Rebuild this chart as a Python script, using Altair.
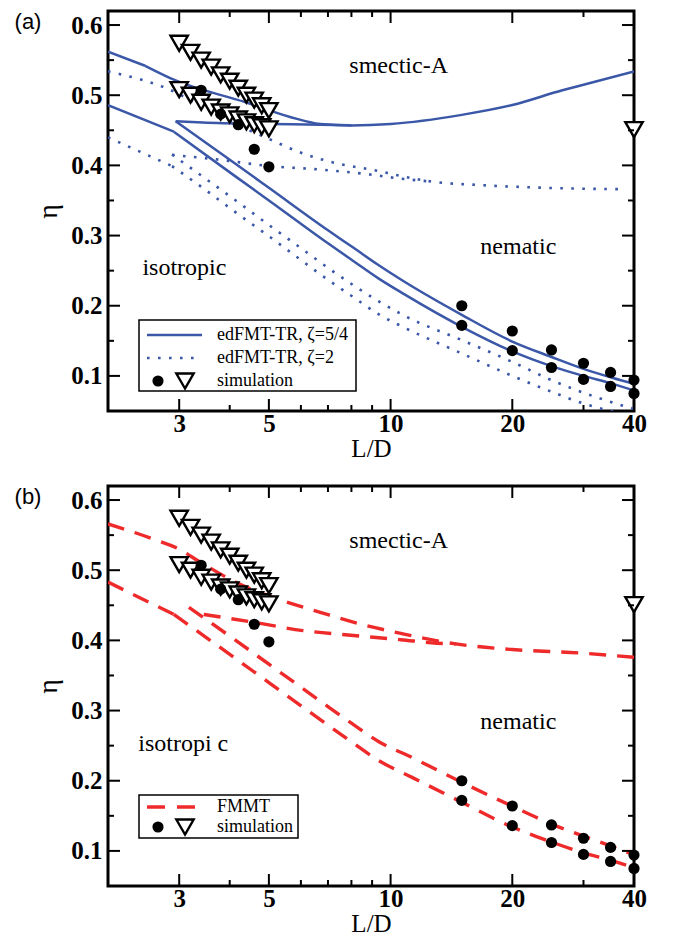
import altair as alt
import pandas as pd

W, H = 526, 400
BLUE = "#3b57a7"
RED = "#ee2a2a"
SERIF = "Liberation Serif"

# ---------------- data ----------------
# panel (a): edFMT-TR, zeta = 5/4 (solid)
a1_smA0_x = [2.0, 2.47]
a1_smA0_y = [0.562, 0.542]
a1_smA_x = [2.47, 2.94, 4.38, 5.64, 6.7, 8.0, 10.0, 15.0, 20.0, 26.6, 30.0, 40.0]
a1_smA_y = [0.542, 0.521, 0.490, 0.469, 0.459, 0.457, 0.459, 0.472, 0.486, 0.507, 0.515, 0.534]
a1_nsm_x = [2.94, 3.43, 5.0, 6.7, 8.0]
a1_nsm_y = [0.463, 0.461, 0.459, 0.458, 0.457]
a1_nem_x = [2.94, 4.14, 5.03, 7.0, 8.1, 9.33, 10.8, 15.0, 20.0, 25.0, 30.0, 35.5, 40.0]
a1_nem_y = [0.463, 0.402, 0.367, 0.3075, 0.2825, 0.258, 0.2345, 0.187, 0.149, 0.127, 0.110, 0.097, 0.0887]
a1_iso0_x = [2.0, 2.91]
a1_iso0_y = [0.486, 0.448]
a1_iso_x = [2.91, 4.14, 5.03, 7.0, 8.1, 9.33, 10.8, 15.0, 20.0, 25.0, 30.0, 35.5, 40.0]
a1_iso_y = [0.448, 0.384, 0.349, 0.289, 0.2635, 0.239, 0.2165, 0.170, 0.135, 0.114, 0.100, 0.0887, 0.079]

# panel (a): edFMT-TR, zeta = 2 (dotted)
a2_smA_x = [2.0, 2.94, 3.43, 4.14, 5.03, 6.07, 7.35, 9.33, 10.2, 12.6, 16.6, 24.3, 38.0]
a2_smA_y = [0.534, 0.504, 0.483, 0.459, 0.437, 0.417, 0.403, 0.392, 0.387, 0.377, 0.372, 0.368, 0.366]
a2_nsm_x = [2.88, 3.78, 5.03, 6.7, 8.9, 10.3, 12.6]
a2_nsm_y = [0.415, 0.408, 0.399, 0.394, 0.387, 0.382, 0.377]
a2_nem_x = [2.88, 3.43, 4.14, 5.03, 6.07, 7.0, 8.1, 9.33, 10.8, 15.0, 20.0, 25.0, 30.0, 38.4, 40.0]
a2_nem_y = [0.4155, 0.384, 0.350, 0.314, 0.280, 0.254, 0.229, 0.2065, 0.186, 0.151, 0.120, 0.094, 0.076, 0.056, 0.053]
a2_iso0_x = [2.0, 2.88]
a2_iso0_y = [0.440, 0.399]
a2_iso_x = [2.88, 3.43, 4.14, 5.03, 6.07, 7.0, 8.1, 9.33, 10.8, 15.0, 20.0, 25.0, 30.0, 35.5, 40.0]
a2_iso_y = [0.399, 0.368, 0.333, 0.298, 0.263, 0.237, 0.212, 0.188, 0.169, 0.132, 0.100, 0.0775, 0.0606, 0.049, 0.041]

# panel (b): FMMT (dashed)
b_smA_x = [2.0, 2.57, 3.0, 3.37, 4.31, 5.32, 6.7, 8.57, 10.6, 14.5, 20.0, 29.4, 40.0]
b_smA_y = [0.566, 0.545, 0.530, 0.512, 0.478, 0.458, 0.440, 0.422, 0.410, 0.395, 0.387, 0.382, 0.376]
b_nsm_x = [3.45, 4.56, 6.07, 8.1, 10.6, 13.0, 14.5]
b_nsm_y = [0.437, 0.426, 0.414, 0.407, 0.401, 0.396, 0.395]
b_nem_x = [3.17, 4.14, 5.03, 6.7, 8.0, 9.33, 11.3, 15.0, 20.0, 25.0, 30.0, 35.5, 40.0]
b_nem_y = [0.447, 0.400, 0.365, 0.3135, 0.2820, 0.2560, 0.2331, 0.1977, 0.1637, 0.1382, 0.1212, 0.1057, 0.0943]
b_iso0_x = [2.0, 2.91]
b_iso0_y = [0.483, 0.437]
b_iso_x = [2.91, 4.14, 5.03, 6.7, 8.0, 9.33, 11.3, 15.0, 20.0, 25.0, 30.0, 35.5, 40.0]
b_iso_y = [0.437, 0.374, 0.3388, 0.2871, 0.2555, 0.2290, 0.2048, 0.1694, 0.1340, 0.1127, 0.0972, 0.0858, 0.0759]

# simulation
circ_x = [3.4, 3.8, 4.2, 4.6, 5.0, 15, 15, 20, 20, 25, 25, 30, 30, 35, 35, 40, 40]
circ_y = [0.507, 0.473, 0.458, 0.423, 0.398, 0.200, 0.172, 0.164, 0.136, 0.137, 0.112,
          0.118, 0.095, 0.105, 0.085, 0.094, 0.075]
tri_x = [3.0, 3.2, 3.4, 3.6, 3.8, 4.0, 4.2, 4.4, 4.6, 4.8, 5.0,
         3.0, 3.2, 3.4, 3.6, 3.8, 4.0, 4.2, 4.4, 4.6, 4.8, 5.0, 40]
tri_y = [0.574, 0.561, 0.550, 0.540, 0.529, 0.520, 0.510, 0.500, 0.493, 0.485, 0.478,
         0.508, 0.500, 0.490, 0.483, 0.476, 0.472, 0.466, 0.462, 0.458, 0.455, 0.452, 0.451]

# axes ticks
x_major = [3, 5, 10, 20, 40]
x_minor = [4, 6, 7, 8, 9, 30]
y_major = [0.1, 0.2, 0.3, 0.4, 0.5, 0.6]
y_minor = [0.15, 0.25, 0.35, 0.45, 0.55]

# phase labels
phase_text = ["smectic-A", "nematic"]
phase_x = [10.47, 20.7]
phase_y = [0.532, 0.274]


def curves(pairs):
    frames = []
    for name, xs, ys in pairs:
        frames.append(pd.DataFrame({"x": xs, "y": ys, "s": name, "o": list(range(len(xs)))}))
    return pd.concat(frames, ignore_index=True)


X = alt.X("x:Q",
          scale=alt.Scale(type="log", domain=[2, 40], nice=False),
          axis=alt.Axis(values=x_major, format="~g", title="L/D", ticks=False, domain=False, grid=False,
                        labelFont=SERIF, labelFontSize=25, labelFontWeight="bold", labelColor="black",
                        labelFlush=False, labelOverlap=False, labelPadding=0,
                        titleFont=SERIF, titleFontSize=25, titleFontWeight="normal", titleColor="black",
                        titlePadding=0))
Y = alt.Y("y:Q",
          scale=alt.Scale(domain=[0.05, 0.62], nice=False, zero=False),
          axis=alt.Axis(values=y_major, format=".1f", title="η", ticks=False, domain=False, grid=False,
                        labelFont=SERIF, labelFontSize=25, labelFontWeight="bold", labelColor="black",
                        labelPadding=6, labelOverlap=False,
                        titleFont=SERIF, titleFontSize=28, titleFontWeight="normal", titleColor="black",
                        titlePadding=8))

one = pd.DataFrame({"k": [0]})


def tick_layers():
    xM = pd.DataFrame({"x": x_major})
    xm = pd.DataFrame({"x": x_minor})
    yM = pd.DataFrame({"y": y_major})
    ym = pd.DataFrame({"y": y_minor})
    out = []
    for df, ln in ((xM, 12), (xm, 6)):
        out.append(alt.Chart(df).mark_rule(color="black", strokeWidth=2).encode(
            x=X, y=alt.value(H), y2=alt.value(H - ln)))
        out.append(alt.Chart(df).mark_rule(color="black", strokeWidth=2).encode(
            x=X, y=alt.value(0), y2=alt.value(ln)))
    for df, ln in ((yM, 12), (ym, 6)):
        out.append(alt.Chart(df).mark_rule(color="black", strokeWidth=2).encode(
            y=Y, x=alt.value(0), x2=alt.value(ln)))
        out.append(alt.Chart(df).mark_rule(color="black", strokeWidth=2).encode(
            y=Y, x=alt.value(W), x2=alt.value(W - ln)))
    return out


def sim_layers():
    tri = pd.DataFrame({"x": tri_x, "y": tri_y})
    circ = pd.DataFrame({"x": circ_x, "y": circ_y})
    return [
        alt.Chart(tri).mark_point(shape="triangle-down", filled=True, fill="white", stroke="black",
                                  strokeWidth=2.4, size=300, opacity=1).encode(x=X, y=Y),
        alt.Chart(circ).mark_point(shape="circle", filled=True, fill="black", stroke="black",
                                   strokeWidth=0, size=125, opacity=1).encode(x=X, y=Y),
    ]


def text_layers(iso_text, iso_x, iso_y, label):
    df = pd.DataFrame({"x": phase_x + [iso_x], "y": phase_y + [iso_y], "t": phase_text + [iso_text]})
    return [
        alt.Chart(df).mark_text(font=SERIF, fontSize=24, align="center", baseline="alphabetic",
                                color="black").encode(x=X, y=Y, text="t:N"),
        alt.Chart(one).mark_text(font="Liberation Sans", fontSize=22, align="center", baseline="middle",
                                 color="black").encode(x=alt.value(-80), y=alt.value(11),
                                                       text=alt.value(label)),
    ]


def legend_text(x, y, t):
    return alt.Chart(one).mark_text(font=SERIF, fontSize=18, align="left", baseline="middle",
                                    color="black").encode(x=alt.value(x), y=alt.value(y), text=alt.value(t))


def legend_sim(y):
    return [
        alt.Chart(one).mark_point(shape="circle", filled=True, fill="black", strokeWidth=0, size=125,
                                  opacity=1).encode(x=alt.value(50), y=alt.value(y)),
        alt.Chart(one).mark_point(shape="triangle-down", filled=True, fill="white", stroke="black",
                                  strokeWidth=2.4, size=300, opacity=1).encode(x=alt.value(77), y=alt.value(y)),
        legend_text(109, y, "simulation"),
    ]


DOT = dict(color=BLUE, strokeWidth=2.6, strokeDash=[2.6, 8.4], strokeCap="butt")
DASH = dict(color=RED, strokeWidth=3.4, strokeDash=[17, 11], strokeCap="butt")


def line_layer(df, style):
    return alt.Chart(df).mark_line(interpolate="monotone", clip=True, **style).encode(
        x=X, y=Y, detail="s:N", order="o:Q")


# ---------- panel (a) ----------
solid = curves([("smA0", a1_smA0_x, a1_smA0_y), ("smA", a1_smA_x, a1_smA_y),
                ("nsm", a1_nsm_x, a1_nsm_y), ("nem", a1_nem_x, a1_nem_y),
                ("iso0", a1_iso0_x, a1_iso0_y), ("iso", a1_iso_x, a1_iso_y)])
dotted = curves([("smA", a2_smA_x, a2_smA_y), ("nsm", a2_nsm_x, a2_nsm_y),
                 ("nem", a2_nem_x, a2_nem_y), ("iso0", a2_iso0_x, a2_iso0_y),
                 ("iso", a2_iso_x, a2_iso_y)])

layers_a = [line_layer(dotted, DOT), line_layer(solid, dict(color=BLUE, strokeWidth=2.5))]
layers_a += sim_layers() + tick_layers() + text_layers("isotropic", 3.09, 0.244, "(a)")
layers_a += [
    alt.Chart(one).mark_rect(fill="white", stroke="black", strokeWidth=1.5).encode(
        x=alt.value(31), x2=alt.value(248), y=alt.value(309), y2=alt.value(380)),
    alt.Chart(one).mark_rule(color=BLUE, strokeWidth=2.5).encode(
        x=alt.value(39), x2=alt.value(94), y=alt.value(324)),
    legend_text(109, 324, "edFMT-TR, ζ=5/4"),
    alt.Chart(one).mark_rule(**DOT).encode(x=alt.value(39), x2=alt.value(94), y=alt.value(347)),
    legend_text(109, 347, "edFMT-TR, ζ=2"),
] + legend_sim(370)

panel_a = alt.layer(*layers_a).properties(width=W, height=H)

# ---------- panel (b) ----------
dashed = curves([("smA", b_smA_x, b_smA_y), ("nsm", b_nsm_x, b_nsm_y),
                 ("nem", b_nem_x, b_nem_y), ("iso0", b_iso0_x, b_iso0_y),
                 ("iso", b_iso_x, b_iso_y)])
layers_b = [line_layer(dashed, DASH)]
layers_b += sim_layers() + tick_layers() + text_layers("isotropi c", 3.07, 0.242, "(b)")
layers_b += [
    alt.Chart(one).mark_rect(fill="white", stroke="black", strokeWidth=1.5).encode(
        x=alt.value(31), x2=alt.value(190), y=alt.value(309), y2=alt.value(352)),
    alt.Chart(one).mark_rule(color=RED, strokeWidth=3.4, strokeDash=[18, 12], strokeCap="butt").encode(
        x=alt.value(39), x2=alt.value(88), y=alt.value(321)),
    legend_text(109, 321, "FMMT"),
] + legend_sim(341)

panel_b = alt.layer(*layers_b).properties(width=W, height=H)

chart = alt.vconcat(panel_a, panel_b, spacing=20).configure_view(
    stroke="black", strokeWidth=3
).properties(
    padding={"left": 5, "top": 0, "right": 5, "bottom": 2},
    background="white",
)

chart.save("out.html", embed_options={"renderer": "svg", "actions": False})
